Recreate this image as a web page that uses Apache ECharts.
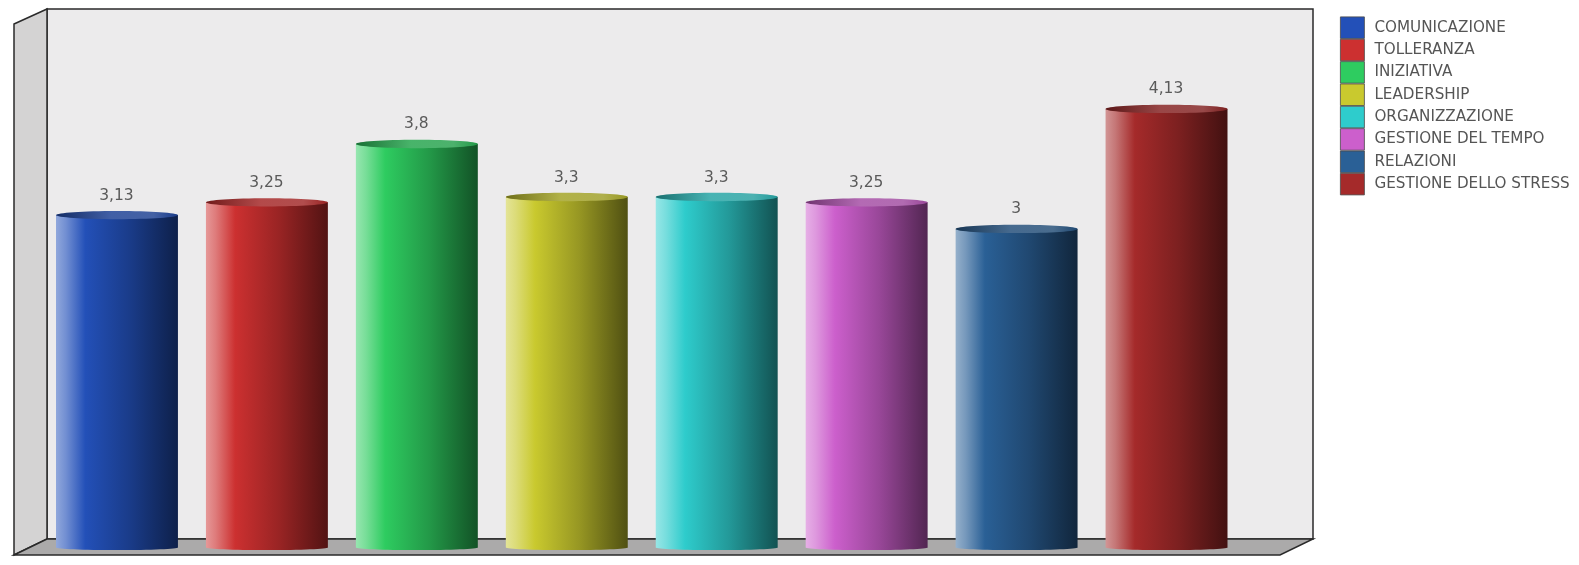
<!DOCTYPE html>
<html>
<head>
<meta charset="utf-8">
<style>html,body{margin:0;padding:0;background:#fff}#c{width:1579px;height:565px}</style>
<script src="https://cdn.jsdelivr.net/npm/echarts@6/dist/echarts.min.js"></script>
</head>
<body>
<div id="c"></div>
<script>
const categories = ['COMUNICAZIONE','TOLLERANZA','INIZIATIVA','LEADERSHIP','ORGANIZZAZIONE','GESTIONE DEL TEMPO','RELAZIONI','GESTIONE DELLO STRESS'];
const values = [3.13,3.25,3.8,3.3,3.3,3.25,3,4.13];
const palette = ['#2350B8','#CC3030','#2ECC60','#C9C92E','#2ECCCC','#CC5FCC','#2A6096','#A52A2A'];

function rgb(h){return [1,3,5].map(i=>parseInt(h.substr(i,2),16));}
function mix(h,t,a){const c=rgb(h);return 'rgb('+c.map((v,i)=>Math.round(v+(t[i]-v)*a)).join(',')+')';}
const white=[255,255,255], black=[0,0,0], grey=[128,128,128];
function hGrad(stops){return new echarts.graphic.LinearGradient(0,0,1,0,stops);}

function makeRender(color){
  const body=hGrad([
    {offset:0,color:mix(color,white,.5)},
    {offset:.08,color:mix(color,white,.36)},
    {offset:.24,color:color},
    {offset:.6,color:mix(color,black,.25)},
    {offset:1,color:mix(color,black,.6)}
  ]);
  const cap=hGrad([
    {offset:0,color:mix(color,black,.45)},
    {offset:.45,color:mix(color,grey,.32)},
    {offset:.8,color:mix(color,grey,.36)},
    {offset:1,color:mix(color,black,.25)}
  ]);
  return function(params,api){
    const idx=api.value(0), v=api.value(1);
    const top=api.coord([idx,v]), base=api.coord([idx,0]);
    const w=api.size([1,0])[0]*0.8133, x=top[0]-w/2;
    return {type:'group',children:[
      {type:'ellipse',shape:{cx:top[0],cy:base[1],rx:w/2,ry:2.6},style:{fill:body}},
      {type:'rect',shape:{x:x,y:top[1],width:w,height:base[1]-top[1]},style:{fill:body}},
      {type:'ellipse',shape:{cx:top[0],cy:top[1],rx:w/2,ry:4.2},style:{fill:cap}},
      {type:'text',style:{text:String(v).replace('.',','),x:top[0]-0.5,y:top[1]-19.5,align:'center',verticalAlign:'middle',
        fill:'#5a5a5a',font:'15.5px "DejaVu Sans"'}}
    ]};
  };
}

const series=categories.map((name,i)=>({
  name:name,type:'custom',
  itemStyle:{color:palette[i]},
  renderItem:makeRender(palette[i]),
  encode:{x:0,y:1},
  data:[[i,values[i]]],
  clip:false,silent:true,animation:false,z:3
}));

const line={stroke:'#2a2a2a',lineWidth:1.5};
const chart=echarts.init(document.getElementById('c'),null,{renderer:'canvas'});
chart.setOption({
  animation:false,
  backgroundColor:'#fff',
  grid:{left:42,width:1199.5,top:16.5,bottom:17.5},
  xAxis:{type:'category',data:categories,show:false},
  yAxis:{type:'value',min:0,max:5,show:false},
  legend:{
    orient:'vertical',left:1340,top:16.5,itemWidth:24,itemHeight:21.55,itemGap:0,icon:'rect',
    itemStyle:{borderColor:'#4a4a4a',borderWidth:.8},
    textStyle:{fontFamily:'"DejaVu Sans"',fontSize:15.2,color:'#555',padding:[0,0,0,5]},
    padding:0,selectedMode:false,data:categories
  },
  graphic:[
    {type:'polygon',z:-5,silent:true,shape:{points:[[47,9],[1313,9],[1313,539],[47,539]]},style:{fill:'#ECEBEC',stroke:line.stroke,lineWidth:1.5}},
    {type:'polygon',z:-4,silent:true,shape:{points:[[14,24],[47,9],[47,539],[14,555]]},style:{fill:'#D4D3D3',stroke:line.stroke,lineWidth:1.5}},
    {type:'polygon',z:-4,silent:true,shape:{points:[[14,555],[47,539],[1313,539],[1280,555]]},style:{fill:'#ABAAAA',stroke:line.stroke,lineWidth:1.5}}
  ],
  series:series
});
</script>
</body>
</html>
